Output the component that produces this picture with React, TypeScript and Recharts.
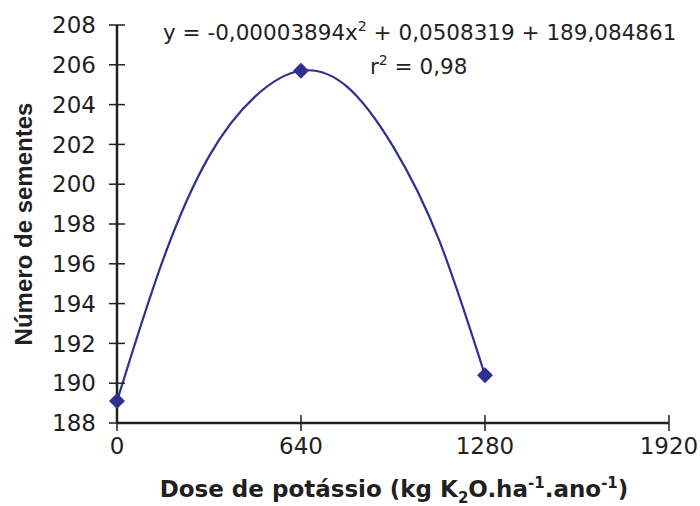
import { ComposedChart, Line, Scatter, XAxis, YAxis } from "recharts";

document.body.style.margin = "0";

// observed means
const doses = [0, 640, 1280];
const sementes = [189.1, 205.7, 190.4];

// fitted curve
const curveDoses = [0, 160, 320, 480, 640, 800, 960, 1120, 1280];
const curveValues = [189.1, 196.2, 201.4, 204.4, 205.7, 204.9, 201.9, 197.2, 190.4];

const xTicks = [0, 640, 1280, 1920];
const yTicks = [188, 190, 192, 194, 196, 198, 200, 202, 204, 206, 208];

const points = doses.map((x, i) => ({ x, y: sementes[i] }));
const curve = curveDoses.map((x, i) => ({ x, y: curveValues[i] }));

const INK = "#231f20";
const BLUE = "#2e3192";
const TICK_FONT = "'DejaVu Sans', sans-serif";

function Diamond(props: any) {
  const { cx, cy } = props;
  const r = 8;
  return (
    <polygon
      points={`${cx},${cy - r} ${cx + r},${cy} ${cx},${cy + r} ${cx - r},${cy}`}
      fill={BLUE}
    />
  );
}

function YTick(props: any) {
  const { x, y, payload } = props;
  const axisX = x + 21;
  return (
    <g>
      <line x1={axisX - 8} x2={axisX + 8} y1={y} y2={y} stroke={INK} strokeWidth={1.5} />
      <text x={x} y={y} dy="0.36em" textAnchor="end" fontSize={23} fontFamily={TICK_FONT} fill={INK}>
        {payload.value}
      </text>
    </g>
  );
}

function XTick(props: any) {
  const { x, y, payload } = props;
  const axisY = y - 15;
  return (
    <g>
      <line x1={x} x2={x} y1={axisY - 8} y2={axisY + 8} stroke={INK} strokeWidth={1.5} />
      <text x={x} y={axisY + 31} textAnchor="middle" fontSize={23} fontFamily={TICK_FONT} fill={INK}>
        {payload.value}
      </text>
    </g>
  );
}

export default function App() {
  return (
    <ComposedChart
      width={700}
      height={506}
      margin={{ top: 25, right: 31, bottom: 0, left: 0 }}
    >
      <XAxis
        dataKey="x"
        type="number"
        domain={[0, 1920]}
        ticks={xTicks}
        height={83}
        tickSize={8}
        tickMargin={7}
        tickLine={false}
        axisLine={{ stroke: INK, strokeWidth: 2.5 }}
        tick={<XTick />}
        interval={0}
      />
      <YAxis
        type="number"
        domain={[188, 208]}
        ticks={yTicks}
        width={117}
        tickSize={8}
        tickMargin={13}
        tickLine={false}
        axisLine={{ stroke: INK, strokeWidth: 2.5 }}
        tick={<YTick />}
        interval={0}
      />
      <Line
        data={curve}
        dataKey="y"
        type="natural"
        stroke={BLUE}
        strokeWidth={2.2}
        dot={false}
        activeDot={false}
        isAnimationActive={false}
      />
      <Scatter data={points} dataKey="y" shape={<Diamond />} isAnimationActive={false} />

      <text
        x={32}
        y={224}
        transform="rotate(-90, 32, 224)"
        textAnchor="middle"
        fontSize={24}
        fontWeight="bold"
        fontFamily="'Liberation Sans', Arial, sans-serif"
        fill={INK}
      >
        Número de sementes
      </text>

      <text x={394} y={497} textAnchor="middle" fontSize={23} fontWeight="bold" fontFamily={TICK_FONT} fill={INK}>
        Dose de potássio (kg K
        <tspan dy={6} fontSize={15}>2</tspan>
        <tspan dy={-6}>O.ha</tspan>
        <tspan dy={-9} fontSize={15}>-1</tspan>
        <tspan dy={9}>.ano</tspan>
        <tspan dy={-9} fontSize={15}>-1</tspan>
        <tspan dy={9}>)</tspan>
      </text>

      <text x={163} y={40} fontSize={21.5} fontFamily={TICK_FONT} fill={INK}>
        y = -0,00003894x
        <tspan dy={-9} fontSize={14}>2</tspan>
        <tspan dy={9}> + 0,0508319 + 189,084861</tspan>
      </text>
      <text x={370} y={74} fontSize={21.5} fontFamily={TICK_FONT} fill={INK}>
        r
        <tspan dy={-9} fontSize={14}>2</tspan>
        <tspan dy={9}> = 0,98</tspan>
      </text>
    </ComposedChart>
  );
}
